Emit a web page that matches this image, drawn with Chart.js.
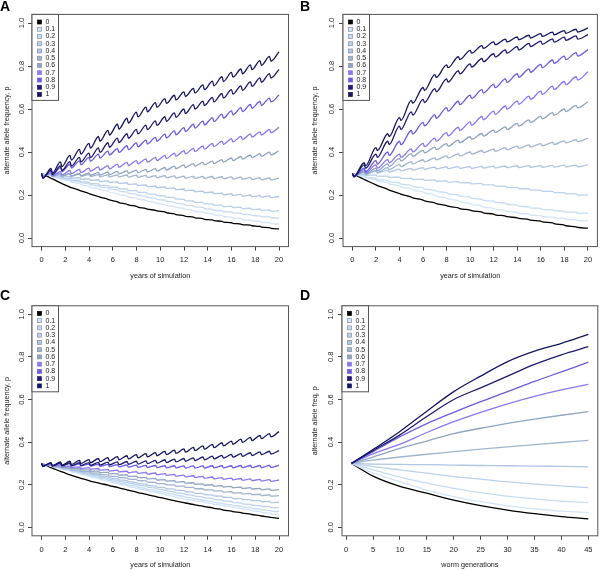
<!DOCTYPE html>
<html>
<head>
<meta charset="utf-8">
<script src="https://cdn.jsdelivr.net/npm/chart.js@4.4.0/dist/chart.umd.min.js"></script>
<style>
  html, body { margin: 0; padding: 0; background: #fff; }
  #wrap { position: relative; width: 600px; height: 570px; }
  #wrap canvas { position: absolute; }
</style>
</head>
<body>
<div id="wrap">
  <canvas id="chartA" width="300" height="285" style="left:0;top:0"></canvas>
  <canvas id="chartB" width="300" height="285" style="left:300px;top:0"></canvas>
  <canvas id="chartC" width="300" height="285" style="left:0;top:285px"></canvas>
  <canvas id="chartD" width="300" height="285" style="left:300px;top:285px"></canvas>
</div>
<script>
// ---- data ----
var seriesLabels = ['0', '0.1', '0.2', '0.3', '0.4', '0.5', '0.6', '0.7', '0.8', '0.9', '1'];
var lineColors = ['#000000', '#d3e4f6', '#c7dcf2', '#bcd2ec', '#b0c6e3', '#a1b5d0', '#91a4c0',
                  '#8a78f2', '#6b5ce0', '#1e1b6e', '#161660'];

var xTicksYears = [0, 2, 4, 6, 8, 10, 12, 14, 16, 18, 20];
var xTicksGens = [0, 5, 10, 15, 20, 25, 30, 35, 40, 45];
var yTicks = [0, 0.2, 0.4, 0.6, 0.8, 1.0];

// panels A and C: value just before each treatment drop
var yearsAC = [0, 0.8, 1.6, 2.4, 3.2, 4, 4.8, 5.6, 6.4, 7.2, 8, 8.8, 9.6, 10.4, 11.2, 12, 12.8, 13.6, 14.4, 15.2, 16, 16.8, 17.6, 18.4, 19.2, 20];
// panel B: yearly drops
var yearsB = [0, 1, 2, 3, 4, 5, 6, 7, 8, 9, 10, 11, 12, 13, 14, 15, 16, 17, 18, 19, 20];
// panel D: worm generations
var gensD = [1, 5, 10, 15, 20, 25, 30, 35, 40, 45];

// A: years of simulation
var a0  = [.300,.278,.256,.237,.222,.207,.193,.180,.168,.157,.147,.137,.129,.121,.112,.104,.097,.090,.084,.077,.071,.065,.060,.054,.048,.042];
var a1  = [.300,.288,.276,.264,.252,.240,.229,.218,.206,.195,.185,.175,.165,.155,.146,.137,.128,.120,.112,.104,.097,.090,.083,.077,.071,.065];
var a2  = [.300,.290,.281,.271,.262,.252,.242,.233,.223,.214,.204,.194,.185,.176,.167,.158,.150,.142,.134,.127,.121,.115,.109,.103,.098,.093];
var a3  = [.300,.292,.284,.276,.268,.260,.252,.244,.236,.228,.220,.212,.204,.196,.188,.180,.173,.166,.159,.153,.148,.143,.139,.135,.131,.128];
var a4  = [.300,.295,.290,.286,.281,.276,.271,.266,.262,.257,.252,.247,.242,.238,.233,.228,.223,.218,.214,.209,.206,.203,.200,.198,.196,.193];
var a5  = [.300,.299,.298,.297,.297,.296,.295,.294,.294,.293,.292,.291,.290,.290,.289,.288,.287,.287,.286,.285,.284,.283,.282,.281,.280,.278];
var a6  = [.300,.300,.300,.301,.301,.303,.305,.307,.310,.313,.316,.319,.323,.328,.334,.340,.346,.352,.358,.365,.372,.379,.386,.392,.399,.406];
var a7  = [.300,.304,.309,.314,.319,.325,.331,.337,.344,.352,.360,.368,.375,.384,.395,.406,.417,.428,.440,.451,.462,.473,.484,.494,.505,.515];
var a8  = [.300,.312,.327,.343,.359,.375,.390,.404,.416,.429,.442,.455,.468,.483,.498,.513,.529,.544,.560,.576,.591,.606,.621,.635,.651,.665];
var a9  = [.300,.316,.335,.355,.375,.395,.419,.443,.465,.485,.505,.525,.545,.564,.582,.600,.620,.637,.654,.672,.690,.708,.726,.745,.765,.784];
var a10 = [.300,.324,.354,.384,.412,.440,.472,.501,.529,.557,.585,.609,.630,.648,.664,.680,.696,.712,.730,.750,.770,.786,.805,.825,.845,.866];
var dipA = [0.003, 0.004, 0.005, 0.007, 0.008, 0.010, 0.012, 0.015, 0.018, 0.021, 0.022];

// B
var b0  = [.300,.272,.247,.226,.207,.190,.176,.163,.151,.140,.130,.120,.111,.102,.094,.086,.078,.070,.060,.052,.046];
var b1  = [.300,.285,.270,.256,.242,.228,.214,.200,.186,.173,.160,.149,.138,.128,.119,.111,.104,.097,.091,.085,.080];
var b2  = [.300,.289,.278,.267,.256,.245,.233,.222,.211,.200,.190,.180,.171,.162,.153,.145,.138,.131,.125,.120,.116];
var b3  = [.300,.297,.293,.288,.283,.278,.274,.270,.266,.262,.258,.253,.247,.241,.235,.229,.223,.217,.211,.205,.200];
var b4  = [.300,.305,.310,.315,.320,.324,.327,.330,.331,.332,.332,.333,.334,.335,.336,.337,.337,.338,.339,.339,.340];
var b5  = [.300,.305,.315,.328,.342,.355,.364,.373,.382,.391,.400,.407,.413,.420,.427,.433,.439,.445,.452,.458,.464];
var b6  = [.300,.310,.325,.345,.370,.392,.408,.423,.439,.455,.471,.486,.502,.517,.533,.549,.566,.583,.600,.617,.634];
var b7  = [.300,.318,.340,.365,.390,.415,.440,.465,.490,.515,.540,.565,.590,.614,.637,.660,.683,.706,.728,.750,.773];
var b8  = [.300,.325,.360,.400,.450,.500,.538,.573,.606,.636,.665,.690,.715,.740,.764,.787,.808,.828,.846,.862,.876];
var b9  = [.300,.340,.390,.450,.520,.587,.645,.695,.740,.778,.810,.835,.857,.875,.890,.905,.916,.926,.934,.940,.946];
var b10 = [.300,.350,.420,.485,.560,.640,.700,.760,.805,.843,.873,.895,.912,.925,.935,.943,.951,.958,.965,.971,.977];
var dipB = [0.003, 0.004, 0.005, 0.006, 0.008, 0.010, 0.012, 0.015, 0.016, 0.015, 0.013];

// C
var c0  = [.300,.280,.262,.246,.232,.219,.208,.198,.187,.176,.165,.155,.145,.135,.125,.116,.107,.099,.091,.083,.076,.069,.062,.055,.048,.042];
var c1  = [.300,.288,.276,.264,.252,.240,.228,.217,.206,.195,.184,.174,.164,.154,.144,.135,.127,.119,.111,.104,.097,.089,.081,.073,.065,.058];
var c2  = [.300,.289,.278,.267,.256,.245,.234,.223,.212,.202,.192,.182,.172,.163,.154,.145,.136,.128,.120,.113,.106,.099,.092,.085,.079,.074];
var c3  = [.300,.290,.280,.270,.260,.250,.240,.230,.220,.211,.202,.193,.184,.175,.166,.158,.150,.142,.135,.128,.121,.114,.108,.102,.097,.092];
var c4  = [.300,.291,.282,.273,.264,.255,.246,.237,.228,.219,.210,.202,.194,.186,.179,.172,.165,.158,.152,.146,.140,.135,.130,.125,.121,.117];
var c5  = [.300,.292,.284,.276,.269,.262,.254,.246,.239,.232,.225,.218,.211,.205,.199,.193,.187,.181,.176,.171,.167,.163,.159,.155,.152,.149];
var c6  = [.300,.294,.288,.282,.276,.270,.264,.258,.252,.246,.240,.234,.229,.224,.219,.214,.209,.204,.200,.196,.192,.189,.186,.183,.180,.178];
var c7  = [.300,.296,.292,.288,.284,.280,.276,.272,.268,.264,.261,.258,.255,.252,.248,.245,.242,.239,.236,.233,.231,.229,.227,.225,.224,.222];
var c8  = [.300,.300,.299,.299,.298,.297,.296,.295,.294,.293,.292,.291,.290,.289,.289,.288,.288,.288,.289,.289,.289,.290,.290,.290,.291,.291];
var c9  = [.300,.301,.302,.302,.303,.304,.305,.306,.307,.309,.310,.312,.314,.317,.320,.323,.326,.330,.334,.338,.342,.346,.350,.354,.357,.360];
var c10 = [.300,.304,.307,.310,.314,.318,.323,.327,.332,.336,.341,.346,.351,.356,.362,.368,.375,.382,.389,.397,.405,.414,.422,.431,.440,.449];
var dipC = [0.002, 0.003, 0.003, 0.004, 0.005, 0.006, 0.007, 0.008, 0.010, 0.013, 0.015];

// D
var d0  = [.300,.240,.192,.160,.128,.102,.081,.064,.050,.039];
var d1  = [.300,.255,.214,.175,.144,.120,.101,.087,.076,.069];
var d2  = [.300,.270,.235,.207,.183,.163,.146,.133,.123,.116];
var d3  = [.300,.285,.270,.254,.238,.226,.213,.203,.194,.186];
var d4  = [.300,.297,.295,.294,.292,.290,.289,.287,.286,.284];
var d5  = [.300,.315,.330,.343,.355,.367,.378,.388,.398,.408];
var d6  = [.300,.330,.370,.405,.440,.465,.488,.508,.526,.543];
var d7  = [.300,.345,.390,.445,.496,.540,.580,.615,.645,.671];
var d8  = [.300,.355,.425,.487,.540,.590,.637,.685,.730,.775];
var d9  = [.300,.360,.434,.520,.600,.655,.710,.765,.810,.848];
var d10 = [.300,.365,.450,.545,.637,.710,.778,.827,.864,.906];

var FONT = '"Liberation Sans", Arial, sans-serif';
var TEXT = '#222';
var AXIS = '#444';

// peak, then the sharp drop right after each treatment
function sawPoints(t, peaks, dip) {
    var pts = [];
    for (var k = 0; k < t.length; k++) {
        pts.push({x: t[k], y: peaks[k]});
        if (k < t.length - 1) pts.push({x: t[k] + 0.12, y: peaks[k] - dip});
    }
    return pts;
}

// box round the plot region plus the small R style legend in its corner
var boxLegend = {
    id: 'boxLegend',
    afterDraw: function(chart) {
        var ctx = chart.ctx, a = chart.chartArea;
        ctx.save();
        ctx.strokeStyle = '#555';
        ctx.lineWidth = 1;
        ctx.strokeRect(a.left, a.top, a.right - a.left, a.bottom - a.top);

        var lx = a.left, ly = a.top, lw = 26.5, lh = 86;
        ctx.fillStyle = '#fff';
        ctx.fillRect(lx, ly, lw, lh);
        ctx.strokeRect(lx, ly, lw, lh);
        ctx.font = '7px ' + FONT;
        ctx.textBaseline = 'middle';
        chart.data.datasets.forEach(function(ds, i) {
            var cy = ly + 7.6 + i * 7.25;
            ctx.fillStyle = ds.borderColor;
            ctx.fillRect(lx + 5.5, cy - 2, 4, 4);
            ctx.lineWidth = 0.7;
            ctx.strokeStyle = i >= 1 && i <= 6 ? '#7f8fa8' : ds.borderColor;
            ctx.strokeRect(lx + 5.5, cy - 2, 4, 4);
            ctx.fillStyle = TEXT;
            ctx.fillText(ds.label, lx + 13.5, cy);
        });
        ctx.restore();
    }
};

function makeChart(id, cfg) {
    var datasets = cfg.series.map(function(vals, i) {
        return {
            label: seriesLabels[i],
            data: cfg.dips ? sawPoints(cfg.t, vals, cfg.dips[i])
                           : cfg.t.map(function(x, k) { return {x: x, y: vals[k]}; }),
            borderColor: lineColors[i],
            backgroundColor: lineColors[i],
            borderWidth: 1.3,
            pointRadius: 0,
            cubicInterpolationMode: 'monotone',
            order: 10 - i
        };
    });
    return new Chart(document.getElementById(id), {
        type: 'line',
        data: {datasets: datasets},
        options: {
            responsive: false,
            animation: false,
            devicePixelRatio: 1,
            layout: {padding: cfg.pad},
            plugins: {
                legend: {display: false},
                tooltip: {enabled: false},
                title: {
                    display: true, text: cfg.letter, align: 'start', color: '#000',
                    font: {family: 'Arial, "Liberation Sans", sans-serif', size: 14, weight: 'bold', lineHeight: 1},
                    padding: cfg.letterPad
                }
            },
            scales: {
                x: {
                    type: 'linear', min: cfg.xMin, max: cfg.xMax,
                    afterBuildTicks: function(s) { s.ticks = cfg.xTicks.map(function(v) { return {value: v}; }); },
                    afterFit: function(s) { s.height = cfg.xAxisH; },
                    grid: {drawOnChartArea: false, drawTicks: true, tickLength: 4, color: AXIS},
                    border: {display: false},
                    ticks: {font: {family: FONT, size: 7.5}, color: TEXT, padding: cfg.xTickPad, maxRotation: 0, autoSkip: false,
                            callback: function(v) { return String(v); }},
                    title: {display: true, text: cfg.xTitle, color: TEXT, font: {family: FONT, size: 7.2},
                            padding: {top: 0, bottom: cfg.xTitlePad}}
                },
                y: {
                    type: 'linear', min: -0.04, max: 1.04,
                    afterBuildTicks: function(s) { s.ticks = yTicks.map(function(v) { return {value: v}; }); },
                    afterFit: function(s) { s.width = cfg.yAxisW; },
                    grid: {drawOnChartArea: false, drawTicks: true, tickLength: 4, color: AXIS},
                    border: {display: false},
                    ticks: {font: {family: FONT, size: 7.5}, color: TEXT, padding: cfg.yTickPad,
                            minRotation: 90, maxRotation: 90, crossAlign: 'center',
                            callback: function(v) { return v.toFixed(1); }},
                    title: {display: true, text: cfg.yTitle, color: TEXT, font: {family: FONT, size: 7.2},
                            padding: {top: cfg.yTitlePad, bottom: 0}}
                }
            }
        },
        plugins: [boxLegend]
    });
}

var yearsTitle = 'years of simulation';
var freqTitle = 'alternate allele frequency, p';

makeChart('chartA', {
    letter: 'A', t: yearsAC, series: [a0, a1, a2, a3, a4, a5, a6, a7, a8, a9, a10], dips: dipA,
    xMin: -0.8, xMax: 20.8, xTicks: xTicksYears, xTitle: yearsTitle, yTitle: freqTitle,
    pad: {top: 0.4, left: 0, right: 11.5, bottom: 0}, letterPad: {top: 0, bottom: 0},
    xAxisH: 38.4, xTickPad: 5, xTitlePad: 4.7, yAxisW: 32, yTickPad: 1.1, yTitlePad: 2.4
});
makeChart('chartB', {
    letter: 'B', t: yearsB, series: [b0, b1, b2, b3, b4, b5, b6, b7, b8, b9, b10], dips: dipB,
    xMin: -0.8, xMax: 20.8, xTicks: xTicksYears, xTitle: yearsTitle, yTitle: freqTitle,
    pad: {top: 0.4, left: 0, right: 2.6, bottom: 0}, letterPad: {top: 0, bottom: 0},
    xAxisH: 38.4, xTickPad: 5, xTitlePad: 4.7, yAxisW: 43, yTickPad: 1.5, yTitlePad: 10.7
});
makeChart('chartC', {
    letter: 'C', t: yearsAC, series: [c0, c1, c2, c3, c4, c5, c6, c7, c8, c9, c10], dips: dipC,
    xMin: -0.8, xMax: 20.8, xTicks: xTicksYears, xTitle: yearsTitle, yTitle: freqTitle,
    pad: {top: 0, left: 0, right: 11.5, bottom: 0}, letterPad: {top: 4.3, bottom: 2.5},
    xAxisH: 34.2, xTickPad: 5.7, xTitlePad: 1, yAxisW: 32, yTickPad: 1.1, yTitlePad: 2.4
});
makeChart('chartD', {
    letter: 'D', t: gensD, series: [d0, d1, d2, d3, d4, d5, d6, d7, d8, d9, d10], dips: null,
    xMin: -0.76, xMax: 46.76, xTicks: xTicksGens, xTitle: 'worm generations', yTitle: 'alternate allele freq, p',
    pad: {top: 0, left: 0, right: 2.2, bottom: 0}, letterPad: {top: 4.3, bottom: 2.5},
    xAxisH: 34.2, xTickPad: 5.7, xTitlePad: 1, yAxisW: 42, yTickPad: 1.5, yTitlePad: 10.7
});
</script>
</body>
</html>
